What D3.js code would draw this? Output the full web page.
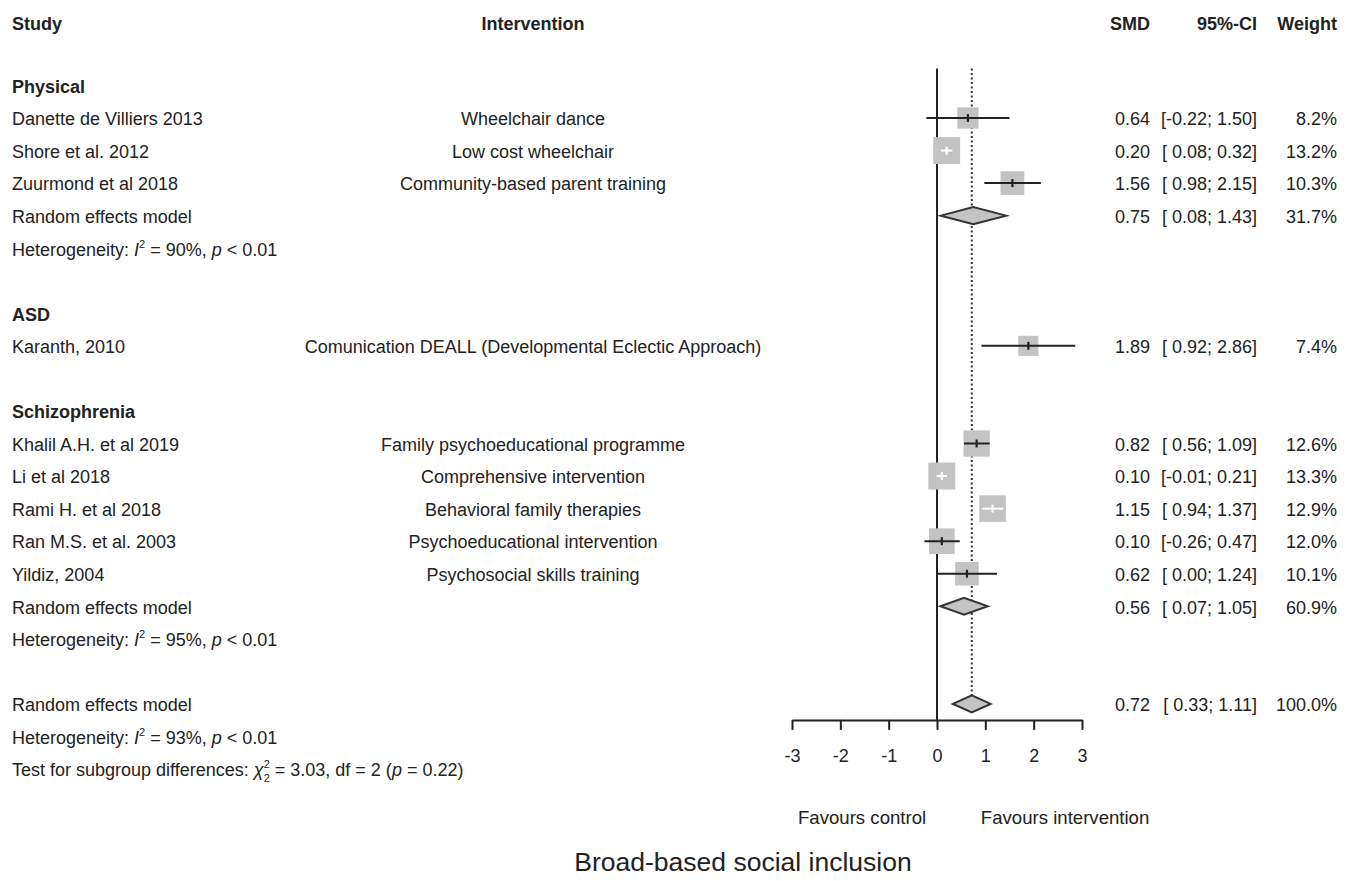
<!DOCTYPE html>
<html>
<head>
<meta charset="utf-8">
<script src="https://cdn.jsdelivr.net/npm/d3@7"></script>
<style>
  html, body { margin: 0; padding: 0; background: #fff; }
  svg text { font-family: "Liberation Sans", Arial, sans-serif; fill: #222; white-space: pre; }
</style>
</head>
<body>
<svg id="chart" width="1352" height="881"></svg>
<script>
// ---------------- DATA ----------------
const groupNames = ["Physical", "ASD", "Schizophrenia"];
const studyGroup = [0, 0, 0, 1, 2, 2, 2, 2, 2];
const studies = [
  "Danette de Villiers 2013", "Shore et al. 2012", "Zuurmond et al 2018",
  "Karanth, 2010",
  "Khalil A.H. et al 2019", "Li et al 2018", "Rami H. et al 2018", "Ran M.S. et al. 2003", "Yildiz, 2004"
];
const interventions = [
  "Wheelchair dance", "Low cost wheelchair", "Community-based parent training",
  "Comunication DEALL (Developmental Eclectic Approach)",
  "Family psychoeducational programme", "Comprehensive intervention", "Behavioral family therapies",
  "Psychoeducational intervention", "Psychosocial skills training"
];
const smd     = [0.64, 0.20, 1.56, 1.89, 0.82, 0.10, 1.15, 0.10, 0.62];
const ciLower = [-0.22, 0.08, 0.98, 0.92, 0.56, -0.01, 0.94, -0.26, 0.00];
const ciUpper = [1.50, 0.32, 2.15, 2.86, 1.09, 0.21, 1.37, 0.47, 1.24];
const weights = [8.2, 13.2, 10.3, 7.4, 12.6, 13.3, 12.9, 12.0, 10.1];

// subgroup random effects (null = single study, no pooled row)
const groupSMD    = [0.75, null, 0.56];
const groupLower  = [0.08, null, 0.07];
const groupUpper  = [1.43, null, 1.05];
const groupWeight = [31.7, null, 60.9];
const groupI2     = [90, null, 95];
const groupP      = ["< 0.01", null, "< 0.01"];

const overall = { smd: 0.72, lower: 0.33, upper: 1.11, weight: 100.0, i2: 93, p: "< 0.01" };
const subgroupTest = { chi2: 3.03, df: 2, p: "0.22" };

const xTicks = [-3, -2, -1, 0, 1, 2, 3];
const headers = { study: "Study", intervention: "Intervention", smd: "SMD", ci: "95%-CI", weight: "Weight" };
const favourLabels = ["Favours control", "Favours intervention"];
const title = "Broad-based social inclusion";

// ---------------- LAYOUT ----------------
const svg = d3.select("#chart");
const FS = 18;
const x = d3.scaleLinear().domain([-3, 3]).range([792, 1082]);
const y = d3.scaleLinear().domain([0, 23]).range([21.35, 770]);

const colStudy = 12, colInt = 533, colSMD = 1150, colCI = 1257, colW = 1337;

const f2 = v => v.toFixed(2);
const ciText = (lo, hi) => "[" + (lo < 0 ? f2(lo) : " " + f2(lo)) + "; " + f2(hi) + "]";
const wText = w => w.toFixed(1) + "%";

// build rows
const rows = [];
let r = 2;
groupNames.forEach((g, gi) => {
  rows.push({ type: "group", row: r++, label: g });
  studies.forEach((s, i) => {
    if (studyGroup[i] === gi) rows.push({ type: "study", row: r++, i });
  });
  if (groupSMD[gi] !== null) {
    rows.push({ type: "re", row: r++, est: groupSMD[gi], lo: groupLower[gi], hi: groupUpper[gi], w: groupWeight[gi] });
    rows.push({ type: "het", row: r++, i2: groupI2[gi], p: groupP[gi] });
  }
  r++;
});
const overallRow = r;
rows.push({ type: "re", row: r++, est: overall.smd, lo: overall.lower, hi: overall.upper, w: overall.weight });
rows.push({ type: "het", row: r++, i2: overall.i2, p: overall.p });
rows.push({ type: "test", row: r++ });

function txt(xp, yp, s, anchor, opts = {}) {
  return svg.append("text").attr("x", xp).attr("y", yp).attr("dy", "0.35em")
    .attr("text-anchor", anchor || "start")
    .attr("font-size", opts.size || FS)
    .attr("font-weight", opts.bold ? "bold" : "normal")
    .text(s);
}

// headers
const hy = y(0.08);
txt(colStudy, hy, headers.study, "start", { bold: true });
txt(colInt, hy, headers.intervention, "middle", { bold: true });
txt(colSMD, hy, headers.smd, "end", { bold: true });
txt(colCI, hy, headers.ci, "end", { bold: true });
txt(colW, hy, headers.weight, "end", { bold: true });

// reference lines
const axisY = y(overallRow) + 15;
svg.append("line").attr("x1", x(0)).attr("x2", x(0)).attr("y1", y(1.45)).attr("y2", axisY)
  .attr("stroke", "#222").attr("stroke-width", 2);
svg.append("line").attr("x1", x(overall.smd)).attr("x2", x(overall.smd))
  .attr("y1", y(1.45)).attr("y2", y(overallRow) - 8)
  .attr("stroke", "#333").attr("stroke-width", 2).attr("stroke-dasharray", "2,2.5");

// rows
const sqK = 7.4;
rows.forEach(d => {
  const yy = y(d.row);
  const my = yy - 1;
  if (d.type === "group") {
    txt(colStudy, yy, d.label, "start", { bold: true });
  } else if (d.type === "study") {
    const i = d.i;
    txt(colStudy, yy, studies[i], "start");
    txt(colInt, yy, interventions[i], "middle");
    txt(colSMD, yy, f2(smd[i]), "end");
    txt(colCI, yy, ciText(ciLower[i], ciUpper[i]), "end");
    txt(colW, yy, wText(weights[i]), "end");
    const size = sqK * Math.sqrt(weights[i]);
    const cx = x(smd[i]);
    svg.append("rect").attr("x", cx - size / 2).attr("y", my - size / 2)
      .attr("width", size).attr("height", size).attr("fill", "#c3c3c3");
    const ciW = x(ciUpper[i]) - x(ciLower[i]);
    const inside = ciW < size - 2;
    const col = inside ? "#fff" : "#222";
    svg.append("line").attr("x1", x(ciLower[i])).attr("x2", x(ciUpper[i]))
      .attr("y1", my).attr("y2", my).attr("stroke", col).attr("stroke-width", 2);
    svg.append("line").attr("x1", cx).attr("x2", cx).attr("y1", my - 4).attr("y2", my + 4)
      .attr("stroke", col).attr("stroke-width", 2.2);
  } else if (d.type === "re") {
    txt(colStudy, yy, "Random effects model", "start");
    txt(colSMD, yy, f2(d.est), "end");
    txt(colCI, yy, ciText(d.lo, d.hi), "end");
    txt(colW, yy, wText(d.w), "end");
    const h = 8.5;
    const pts = [[x(d.lo), my], [x(d.est), my - h], [x(d.hi), my], [x(d.est), my + h]];
    svg.append("path").attr("d", "M" + pts.map(p => p.join(",")).join("L") + "Z")
      .attr("fill", "#c3c3c3").attr("stroke", "#333").attr("stroke-width", 2);
  } else if (d.type === "het") {
    const t = svg.append("text").attr("x", colStudy).attr("y", yy).attr("dy", "0.35em")
      .attr("font-size", FS);
    t.append("tspan").text("Heterogeneity: ");
    t.append("tspan").attr("font-style", "italic").text("I");
    t.append("tspan").attr("font-size", 11).attr("dy", -8).text("2");
    t.append("tspan").attr("dy", 8).text(" = " + d.i2 + "%, ");
    t.append("tspan").attr("font-style", "italic").text("p");
    t.append("tspan").text(" " + d.p);
  } else if (d.type === "test") {
    const t = svg.append("text").attr("x", colStudy).attr("y", yy).attr("dy", "0.35em")
      .attr("font-size", FS);
    t.append("tspan").text("Test for subgroup differences: ");
    t.append("tspan").attr("font-style", "italic").text("\u03C7");
    t.append("tspan").attr("font-size", 11).attr("dy", -8).text("2");
    t.append("tspan").attr("font-size", 11).attr("dx", -6.1).attr("dy", 14).text(String(subgroupTest.df));
    t.append("tspan").attr("dy", -6).text(" = " + f2(subgroupTest.chi2) + ", df = " + subgroupTest.df + " (");
    t.append("tspan").attr("font-style", "italic").text("p");
    t.append("tspan").text(" = " + subgroupTest.p + ")");
  }
});

// axis
const axis = d3.axisBottom(x).tickValues(xTicks).tickFormat(d => String(d))
  .tickSizeInner(10).tickSizeOuter(0).tickPadding(19);
const ag = svg.append("g").attr("transform", `translate(0,${axisY})`).call(axis);
ag.select(".domain").attr("stroke", "#222").attr("stroke-width", 2);
ag.selectAll(".tick line").attr("stroke", "#222").attr("stroke-width", 2);
ag.selectAll(".tick text").attr("font-size", FS).attr("fill", "#222")
  .attr("font-family", "Liberation Sans, Arial, sans-serif");

// favours labels
txt(x(-1.55), y(overallRow) + 113, favourLabels[0], "middle", { size: 18.6 });
txt(x(2.65), y(overallRow) + 113, favourLabels[1], "middle", { size: 18.6 });

// title
txt(743, 862, title, "middle", { size: 26.5 });
</script>
</body>
</html>
